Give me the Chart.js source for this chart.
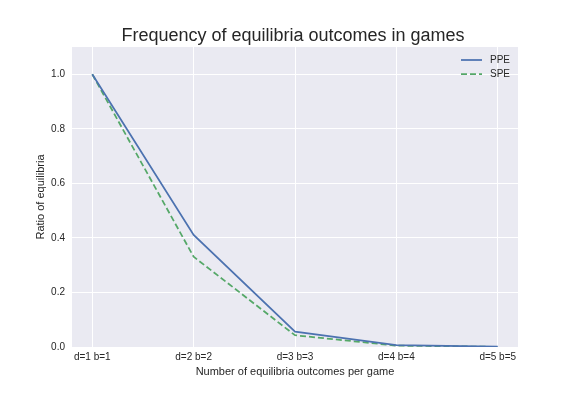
<!DOCTYPE html>
<html>
<head>
<meta charset="utf-8">
<script src="https://cdn.jsdelivr.net/npm/chart.js@4/dist/chart.umd.min.js"></script>
<style>
	html, body { margin: 0; padding: 0; background: #ffffff; }
	canvas { display: block; }
</style>
</head>
<body>
<canvas id="chart" width="576" height="396"></canvas>
<script>
const categories = ["d=1 b=1", "d=2 b=2", "d=3 b=3", "d=4 b=4", "d=5 b=5"];
const ppeValues = [1.0, 0.411, 0.056, 0.007, 0.001];
const speValues = [1.0, 0.331, 0.043, 0.005, 0.0005];
const yTicks = [0.0, 0.2, 0.4, 0.6, 0.8, 1.0];

const textColor = "#262626";
const fontFamily = "'Liberation Sans', Arial, sans-serif";

// grey background behind the plot, like seaborn darkgrid
const backgroundPlugin = {
	id: "plotBackground",
	beforeDraw(chart) {
		const { ctx, chartArea } = chart;
		ctx.save();
		ctx.fillStyle = "#EAEAF2";
		ctx.fillRect(chartArea.left, chartArea.top, chartArea.right - chartArea.left, chartArea.bottom - chartArea.top);
		ctx.restore();
	},
};

// legend drawn inside the plot, top right
const insideLegend = {
	id: "insideLegend",
	afterDraw(chart) {
		const { ctx, chartArea } = chart;
		ctx.save();
		ctx.font = "10px " + fontFamily;
		ctx.textBaseline = "middle";
		chart.data.datasets.forEach((ds, i) => {
			const y = chartArea.top + 13 + i * 14;
			const x = chartArea.right - 57;
			ctx.strokeStyle = ds.borderColor;
			ctx.lineWidth = ds.borderWidth;
			ctx.setLineDash(ds.borderDash || []);
			ctx.beginPath();
			ctx.moveTo(x, y);
			ctx.lineTo(x + 21, y);
			ctx.stroke();
			ctx.setLineDash([]);
			ctx.fillStyle = textColor;
			ctx.fillText(ds.label, x + 29, y);
		});
		ctx.restore();
	},
};

const ctx = document.getElementById("chart");

new Chart(ctx, {
	type: "line",
	data: {
		datasets: [
			{
				label: "PPE",
				data: ppeValues.map((v, i) => ({ x: i, y: v })),
				borderColor: "#4C72B0",
				borderWidth: 1.75,
				pointRadius: 0,
				tension: 0,
			},
			{
				label: "SPE",
				data: speValues.map((v, i) => ({ x: i, y: v })),
				borderColor: "#55A868",
				borderWidth: 1.75,
				borderDash: [6, 3],
				pointRadius: 0,
				tension: 0,
			},
		],
	},
	options: {
		responsive: false,
		animation: false,
		devicePixelRatio: 1,
		layout: {
			padding: { top: 0, right: 0, bottom: 0, left: 10 },
		},
		plugins: {
			legend: { display: false },
			tooltip: { enabled: false },
			title: {
				display: true,
				text: "Frequency of equilibria outcomes in games",
				color: textColor,
				font: { family: fontFamily, size: 18, weight: "normal", lineHeight: 1.2 },
				padding: { top: 25, bottom: 0.4 },
			},
		},
		scales: {
			x: {
				type: "linear",
				min: -0.2,
				max: 4.2,
				afterBuildTicks: (scale) => {
					scale.ticks = categories.map((c, i) => ({ value: i }));
				},
				afterFit: (scale) => {
					scale.height = 49;
				},
				ticks: {
					autoSkip: false,
					maxRotation: 0,
					padding: 4,
					color: textColor,
					font: { family: fontFamily, size: 10 },
					callback: (value) => categories[value],
				},
				grid: { color: "#ffffff", lineWidth: 1, drawTicks: false },
				border: { display: false },
				title: {
					display: true,
					text: "Number of equilibria outcomes per game",
					color: textColor,
					font: { family: fontFamily, size: 11 },
					padding: { top: 0, bottom: 17 },
				},
			},
			y: {
				min: 0,
				max: 1.1,
				afterBuildTicks: (scale) => {
					scale.ticks = yTicks.map((v) => ({ value: v }));
				},
				afterFit: (scale) => {
					scale.width = 62;
				},
				ticks: {
					padding: 7,
					color: textColor,
					font: { family: fontFamily, size: 10 },
					callback: (value) => value.toFixed(1),
				},
				grid: { color: "#ffffff", lineWidth: 1, drawTicks: false },
				border: { display: false },
				title: {
					display: true,
					text: "Ratio of equilibria",
					color: textColor,
					font: { family: fontFamily, size: 11 },
					padding: { top: 24, bottom: 0 },
				},
			},
			// empty right margin so the title centres over the plot
			yRight: {
				position: "right",
				min: 0,
				max: 1.1,
				afterFit: (scale) => {
					scale.width = 58;
				},
				ticks: { display: false },
				grid: { display: false },
				border: { display: false },
			},
		},
	},
	plugins: [backgroundPlugin, insideLegend],
});
</script>
</body>
</html>
